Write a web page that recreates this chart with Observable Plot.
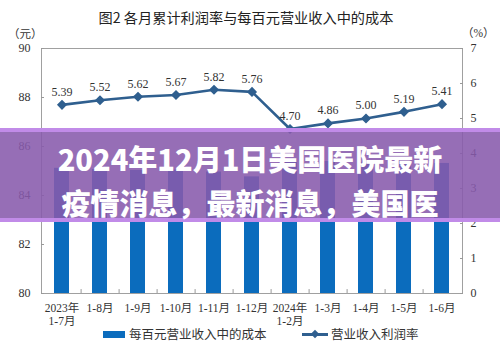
<!DOCTYPE html>
<html><head><meta charset="utf-8">
<script src="https://cdn.jsdelivr.net/npm/d3@7"></script>
<script src="https://cdn.jsdelivr.net/npm/@observablehq/plot@0.6"></script>
<style>
body{margin:0;background:#fff;}
#wrap{position:relative;width:500px;height:354px;overflow:hidden;font-family:"Liberation Serif","Noto Sans CJK SC",serif;color:#333;}
#wrap svg{position:absolute;left:0;top:0;}
.abs{position:absolute;white-space:nowrap;line-height:1;}
#title{left:0;width:492px;top:10px;text-align:center;font-family:"Noto Sans CJK SC",sans-serif;font-size:14.2px;color:#222;}
#overlay{left:0;top:128px;width:500px;height:94px;background:rgba(135,90,172,0.88);border-top:4px solid rgba(195,140,235,0.95);border-bottom:4px solid rgba(195,140,235,0.95);box-sizing:border-box;}
#ovtext{left:0;top:136px;width:500px;text-align:center;font-family:"Noto Sans CJK SC",sans-serif;font-weight:900;font-size:29px;line-height:44px;color:#fff;}
</style></head>
<body><div id="wrap"></div>
<script>
const categories = ["2023年\n1-7月","1-8月","1-9月","1-10月","1-11月","1-12月","2024年\n1-2月","1-3月","1-4月","1-5月","1-6月"];
const costPer100 = [85.11,85.06,85.02,85.04,84.96,84.76,85.49,85.39,85.34,85.39,85.31];
const profitRate = [5.39,5.52,5.62,5.67,5.82,5.76,4.70,4.86,5.00,5.19,5.41];
const leftTicks = [80,82,84,86,88,90];
const rightTicks = [0,1,2,3,4,5,6,7];
const titleText = "图2  各月累计利润率与每百元营业收入中的成本";
const legendLabels = ["每百元营业收入中的成本","营业收入利润率"];
const overlayLines = ["2024年12月1日美国医院最新","疫情消息，最新消息，美国医"];

const toLeft = v => 80 + v * 10 / 7;
const rows = categories.map((c,i)=>({cat:c, cost:costPer100[i], rate:profitRate[i], ry:toLeft(profitRate[i])}));
const serif = "Liberation Serif, Noto Sans CJK SC, serif";

const chart = Plot.plot({
  width:500, height:354,
  marginTop:48, marginBottom:61, marginLeft:41, marginRight:38,
  style:{fontFamily:serif, fontSize:"12px", color:"#333", background:"transparent"},
  x:{domain:categories, paddingInner:0.6, paddingOuter:0.3, label:null},
  y:{domain:[80,90], label:null},
  marks:[
    Plot.barY(rows,{x:"cat", y1:80, y2:"cost", fill:"#0b6cbd"}),
    Plot.frame({stroke:"#a0a0a0"}),
    Plot.ruleX(categories.slice(0,-1),{x:d=>d, dx:19.1, y1:80, y2:80.16, stroke:"#999"}),
    Plot.axisX({tickSize:0, tickPadding:9, fontSize:11.5, lineHeight:1.15, fill:"#333"}),
    Plot.axisY(leftTicks,{anchor:"left", tickSize:-3, tickPadding:14, fontSize:12, fill:"#333", stroke:"#999"}),
    Plot.axisY(rightTicks.map(toLeft),{anchor:"right", tickSize:-3, tickPadding:11, fontSize:12, fill:"#333", stroke:"#999", tickFormat:d=>String(Math.round((d-80)*0.7))}),
    Plot.line(rows,{x:"cat", y:"ry", stroke:"#2f5f8f", strokeWidth:2.6}),
    Plot.dot(rows,{x:"cat", y:"ry", symbol:"diamond2", r:3.6, fill:"#2f5f8f", stroke:"#2f5f8f"}),
    Plot.text(rows,{x:"cat", y:"ry", text:d=>d.rate.toFixed(2), dy:-13, fontSize:12, fill:"#333"})
  ]
});
const wrap = document.getElementById("wrap");
wrap.appendChild(chart);

function addDiv(id, cls, html, style){
  const d=document.createElement("div"); if(id) d.id=id; d.className=cls; d.innerHTML=html; if(style) d.style.cssText=style; wrap.appendChild(d); return d;
}
addDiv("title","abs",titleText);
addDiv(null,"abs","（元）","left:8px;top:28px;font-size:11.5px;font-family:'Noto Sans CJK SC',serif;");
addDiv(null,"abs","（%）","left:462px;top:28px;font-size:11.5px;font-family:'Liberation Serif','Noto Sans CJK SC',serif;");
// legend
addDiv(null,"abs","","left:103px;top:331px;width:22px;height:7px;background:#0b6cbd;");
addDiv(null,"abs",legendLabels[0],"left:129px;top:328px;font-size:12.5px;font-family:'Noto Sans CJK SC',serif;color:#333;");
addDiv(null,"abs","","left:302px;top:333px;width:26px;height:3px;background:#2f5f8f;");
addDiv(null,"abs","","left:312px;top:331px;width:6px;height:6px;background:#2f5f8f;transform:rotate(45deg);");
addDiv(null,"abs",legendLabels[1],"left:331px;top:328px;font-size:12.5px;font-family:'Noto Sans CJK SC',serif;color:#333;");
// overlay banner
addDiv("overlay","abs","");
addDiv("ovtext","abs",overlayLines.join("<br>"));
</script>
</body></html>
